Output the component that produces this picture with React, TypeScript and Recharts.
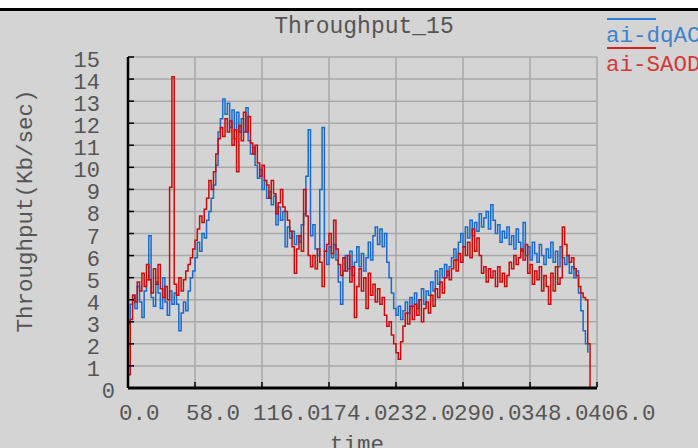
import React from 'react';
import { LineChart, Line, XAxis, YAxis, CartesianGrid } from 'recharts';

// sampled every 2 time units, t = 0 .. 400
const STEP = 2;

const dqAC = [
  2.9, 3.8, 4.2, 3.6, 4.6, 3.9, 3.2, 4.4, 4.9, 6.9,
  4.1, 3.7, 4.8, 4.3, 3.6, 5.0, 3.9, 3.3, 4.4, 3.8,
  4.3, 3.8, 2.6, 3.4, 3.9, 3.5, 4.4, 5.0, 5.3, 5.9,
  6.6, 6.2, 7.0, 6.8, 7.6, 8.0, 8.6, 9.2, 10.1, 11.6,
  12.2, 13.1, 12.4, 12.9, 11.8, 12.6, 11.3, 12.5, 11.6, 12.2,
  11.6, 12.7, 11.2, 10.6, 10.9, 10.1, 9.5, 9.9, 9.0, 9.4,
  8.6, 8.9, 8.3, 8.7, 7.4, 8.2, 7.6, 8.0, 6.4, 7.3,
  6.8, 7.1, 6.5, 6.9, 6.6, 7.4, 7.9, 9.6, 11.7, 6.9,
  7.4, 6.3, 6.0, 9.0, 11.8, 6.2, 5.6, 6.4, 5.9, 6.5,
  5.8, 4.8, 3.8, 5.3, 6.0, 5.4, 6.2, 5.1, 5.7, 6.4,
  5.5, 6.1, 5.3, 5.9, 6.6, 5.8, 6.9, 7.3, 6.5, 7.2,
  6.4, 7.0, 5.7, 5.0, 4.3, 3.6, 3.3, 3.7, 3.1, 3.5,
  3.9, 3.4, 4.1, 3.7, 4.3, 3.6, 4.0, 4.5, 3.8, 4.4,
  4.2, 4.8, 4.4, 5.3, 4.7, 5.4, 5.0, 5.6, 5.1, 5.5,
  5.9, 6.3, 5.8, 6.6, 7.0, 6.4, 7.3, 6.8, 7.6, 6.9,
  7.5, 7.1, 7.9, 7.3, 7.7, 8.0, 7.2, 8.3, 7.6, 7.0,
  7.4, 6.6, 7.1, 6.8, 7.3, 6.5, 6.9, 6.3, 7.2, 6.6,
  6.2, 7.5, 6.0, 6.4, 5.8, 6.6, 6.1, 5.7, 6.5, 6.0,
  5.6, 6.3, 5.9, 6.6, 5.7, 6.2, 5.5, 6.4, 5.9, 5.6,
  6.0, 5.2, 5.5, 5.0, 5.3, 4.3, 3.5, 2.6, 2.0, 1.6,
  null,
];

const SAOD = [
  0.6, 3.1, 4.2, 3.9, 4.8, 4.4, 5.2, 4.6, 5.6, 4.9,
  4.3, 5.4, 4.7, 5.6, 4.5, 4.1, 4.6, 4.0, 9.1, 14.1,
  4.7, 4.2, 5.0, 4.4, 4.9, 5.3, 5.6, 5.9, 6.3, 6.7,
  7.2, 7.8, 7.5, 8.1, 8.6, 9.4, 9.0, 9.8, 10.6, 11.3,
  11.8, 11.4, 12.2, 11.6, 12.1, 11.0, 11.7, 9.8, 11.9, 11.2,
  12.5, 11.6, 12.3, 11.1, 10.6, 11.0, 10.2, 9.6, 10.1, 9.4,
  9.2, 8.6, 9.4, 8.8, 7.9, 8.4, 9.0, 8.2, 8.0, 7.6,
  7.1, 6.4, 5.2, 6.3, 6.9, 6.2, 9.0, 7.8, 6.0, 5.5,
  6.0, 5.4, 6.3, 5.7, 4.6, 6.2, 6.5, 7.0, 6.1, 7.6,
  6.3, 5.6, 5.1, 5.9, 5.3, 6.0, 4.8, 5.5, 3.2, 4.6,
  5.4, 4.4, 5.0, 3.6, 5.2, 4.2, 4.7, 3.9, 4.5, 3.8,
  4.1, 3.3, 2.8, 3.0, 2.4, 2.0, 1.6, 1.3, 2.1, 2.8,
  3.4, 2.9, 3.7, 3.1, 3.8, 3.3, 4.0, 3.0, 3.6, 3.9,
  3.4, 4.2, 3.7, 4.5, 4.1, 4.8, 4.3, 5.0, 5.3, 4.9,
  5.4, 5.8, 5.3, 6.1, 5.7, 6.4, 6.0, 6.6, 5.9, 7.2,
  6.2, 6.8, 6.0, 5.2, 5.5, 4.8, 5.4, 5.0, 5.3, 4.6,
  5.5, 4.8, 5.2, 4.6, 5.1, 5.7, 5.4, 6.0, 5.6, 5.9,
  6.3, 5.8, 6.5, 5.2, 5.6, 4.7, 5.3, 4.9, 5.5, 4.4,
  5.1, 4.6, 3.8, 5.2, 4.4, 5.5, 4.7, 5.0, 7.3, 6.5,
  6.0, 5.7, 5.9, 5.4, 5.1, 4.6, 4.3, 4.1, 4.0, 2.0,
  0,
];

const xTicks = [0, 58, 116, 174, 232, 290, 348, 406];
const yTicks = [0, 1, 2, 3, 4, 5, 6, 7, 8, 9, 10, 11, 12, 13, 14, 15];

const data = SAOD.map((v, i) => ({ t: i * STEP, dqAC: dqAC[i], SAOD: v }));

const FONT = '"Liberation Mono", "DejaVu Sans Mono", monospace';
const TEXT = '#555';
const BLUE = '#1a6ccc';
const RED = '#cc0a0a';

const XTick = (props: any) => {
  const { x, y, payload } = props;
  return (
    <g>
      <line x1={x} x2={x} y1={y - 1} y2={y - 6} stroke="#000" strokeWidth={1.5} />
      <text x={x - 9} y={y + 32} textAnchor="start" fill={TEXT} fontFamily={FONT} fontSize={22.5}>
        {Number(payload.value).toFixed(1)}
      </text>
    </g>
  );
};

const YTick = (props: any) => {
  const { x, y, payload } = props;
  const isZero = payload.value === 0;
  return (
    <g>
      {!isZero && <line x1={x + 28} x2={x + 34} y1={y} y2={y} stroke="#000" strokeWidth={1.5} />}
      <text x={isZero ? x + 15 : x} y={y + 10} textAnchor="end" fill={TEXT} fontFamily={FONT} fontSize={22}>
        {payload.value}
      </text>
    </g>
  );
};

export default function App() {
  return (
    <div style={{ position: 'absolute', left: 0, top: 0, width: 698, height: 448, background: '#d4d4d4', overflow: 'hidden' }}>
      <div style={{ position: 'absolute', left: 0, top: 0, width: 698, height: 8, background: '#fff' }} />
      <div style={{ position: 'absolute', left: 0, top: 8, width: 698, height: 3, background: '#000' }} />
      <div style={{ position: 'absolute', left: 0, top: 0 }}>
        <LineChart width={698} height={448} data={data} margin={{ top: 57, right: 101, bottom: 20, left: 28 }}>
          <CartesianGrid stroke="#a9a9a9" strokeWidth={1.5} horizontalValues={yTicks} verticalValues={xTicks} />
          <XAxis
            dataKey="t"
            type="number"
            domain={[0, 406]}
            ticks={xTicks}
            interval={0}
            height={40}
            tickSize={0}
            tickMargin={0}
            tickLine={false}
            axisLine={{ stroke: '#000', strokeWidth: 3 }}
            tick={<XTick />}
          />
          <YAxis
            type="number"
            domain={[0, 15]}
            ticks={yTicks}
            interval={0}
            width={100}
            tickSize={0}
            tickMargin={28}
            tickLine={false}
            axisLine={{ stroke: '#000', strokeWidth: 2.5 }}
            tick={<YTick />}
          />
          <Line type="stepAfter" dataKey="dqAC" stroke={BLUE} strokeWidth={1.5} dot={false} isAnimationActive={false} connectNulls={false} />
          <Line type="stepAfter" dataKey="SAOD" stroke={RED} strokeWidth={1.5} dot={false} isAnimationActive={false} />
        </LineChart>
      </div>
      <svg width={698} height={448} style={{ position: 'absolute', left: 0, top: 0, pointerEvents: 'none' }}>
        <text x={364} y={33} textAnchor="middle" fill={TEXT} fontFamily={FONT} fontSize={23}>
          Throughput_15
        </text>
        <text x={357} y={451} textAnchor="middle" fill={TEXT} fontFamily={FONT} fontSize={22.5}>
          time
        </text>
        <text
          x={32}
          y={211}
          transform="rotate(-90 32 211)"
          textAnchor="middle"
          fill={TEXT}
          fontFamily={FONT}
          fontSize={22.5}
        >
          Throughput(Kb/sec)
        </text>
        <line x1={607} x2={656} y1={19} y2={19} stroke="#2f7fd6" strokeWidth={2} />
        <text x={606} y={42} fill="#3f82cc" fontFamily={FONT} fontSize={22.5}>
          ai-dqAC
        </text>
        <line x1={607} x2={656} y1={48} y2={48} stroke="#d42020" strokeWidth={2} />
        <text x={606} y={71} fill="#d03a3a" fontFamily={FONT} fontSize={22.5}>
          ai-SAOD
        </text>
      </svg>
    </div>
  );
}
